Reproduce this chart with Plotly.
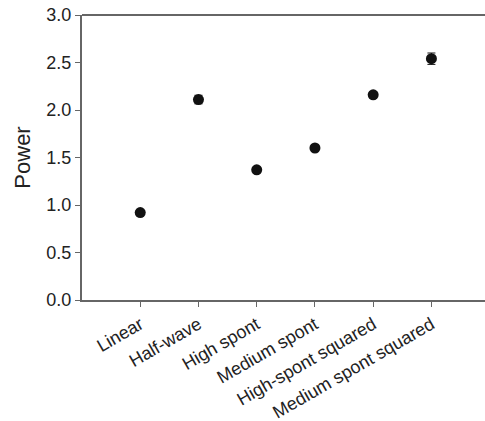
import plotly.graph_objects as go

categories = ["Linear", "Half-wave", "High spont", "Medium spont",
              "High-spont squared", "Medium spont squared"]
power = [0.92, 2.11, 1.37, 1.60, 2.16, 2.54]
power_err = [0.015, 0.045, 0.02, 0.015, 0.03, 0.06]
y_ticks = [0.0, 0.5, 1.0, 1.5, 2.0, 2.5, 3.0]

FONT = "Liberation Sans, Arial, sans-serif"

fig = go.Figure()
fig.add_trace(go.Scatter(
    x=list(range(len(categories))), y=power,
    mode="markers",
    marker=dict(color="#111111", size=11),
    error_y=dict(type="data", array=power_err, color="#111111",
                 thickness=1, width=4),
    showlegend=False,
))

tick_font = dict(family=FONT, size=18, color="#222222")
fig.update_layout(
    width=485, height=421,
    margin=dict(l=82, r=0, t=15, b=121, pad=0),
    plot_bgcolor="white", paper_bgcolor="white",
    showlegend=False,
    font=tick_font,
    xaxis=dict(
        range=[-1, 5.92],
        tickmode="array",
        tickvals=list(range(len(categories))),
        ticktext=categories,
        tickangle=-30,
        ticks="outside", ticklen=5, tickcolor="#666666",
        showline=True, linecolor="#666666", linewidth=2,
        showgrid=False, zeroline=False,
        tickfont=tick_font, automargin=False,
    ),
    yaxis=dict(
        range=[0, 3.0],
        tickmode="array",
        tickvals=y_ticks,
        ticktext=[f"{v:.1f}" for v in y_ticks],
        ticks="outside", ticklen=5, tickcolor="#666666",
        showline=True, linecolor="#666666", linewidth=2,
        showgrid=False, zeroline=False,
        tickfont=tick_font, automargin=False,
        title=dict(text="Power", font=dict(family=FONT, size=22, color="#222222"), standoff=10),
    ),
    shapes=[
        dict(type="line", xref="paper", yref="paper", x0=0, x1=1, y0=1, y1=1,
             line=dict(color="#666666", width=2)),
    ],
)

fig.write_html("out.html")
